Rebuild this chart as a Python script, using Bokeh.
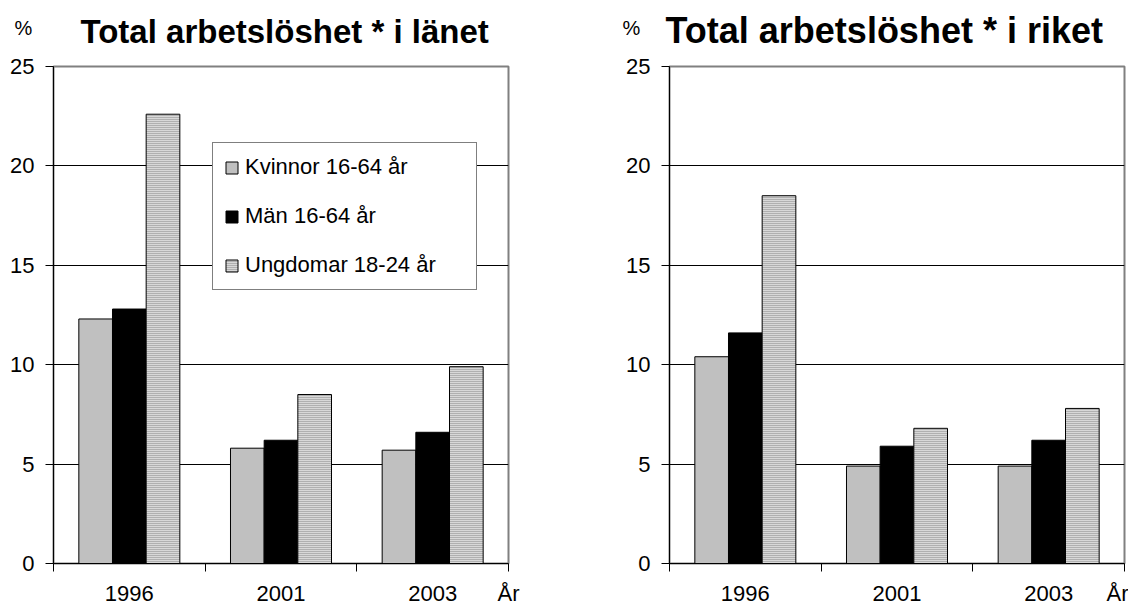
from bokeh.plotting import figure
from bokeh.models import Range1d, FixedTicker, Title, Legend, LegendItem, ColumnDataSource
from bokeh.transform import dodge
from bokeh.layouts import row
from bokeh.embed import file_html
from bokeh.resources import INLINE

years = ["1996", "2001", "2003"]
axis_unit = "År"
series = ["Kvinnor 16-64 år", "Män 16-64 år", "Ungdomar 18-24 år"]
lan_kvinnor = [12.3, 5.8, 5.7]
lan_man = [12.8, 6.2, 6.6]
lan_ungdom = [22.6, 8.5, 9.9]
riket_kvinnor = [10.4, 4.9, 4.9]
riket_man = [11.6, 5.9, 6.2]
riket_ungdom = [18.5, 6.8, 7.8]
y_ticks = [0, 5, 10, 15, 20, 25]
titles = ["Total arbetslöshet * i länet", "Total arbetslöshet * i riket"]

FONT = "Liberation Sans"


def make(title, kv, ma, ug, width, left, right, title_off, title_size, title_standoff,
         pct_off, pct_standoff, with_legend):
    p = figure(width=width, height=608, x_range=Range1d(0, 3), y_range=Range1d(0, 25),
               output_backend="svg", toolbar_location=None,
               min_border_left=left, min_border_right=right,
               min_border_top=66, min_border_bottom=44)
    p.background_fill_color = "white"
    p.border_fill_color = "white"
    p.outline_line_color = "#808080"
    p.outline_line_width = 2

    n = len(years)
    src = ColumnDataSource(dict(x=[i + 0.5 for i in range(n)], kv=kv, ma=ma, ug=ug))
    bw = 0.222
    r1 = p.vbar(x=dodge('x', -bw), top='kv', width=bw, source=src,
                fill_color="#c0c0c0", line_color="black", line_width=1)
    r2 = p.vbar(x=dodge('x', 0), top='ma', width=bw, source=src,
                fill_color="black", line_color="black", line_width=1)
    r3 = p.vbar(x=dodge('x', bw), top='ug', width=bw, source=src,
                fill_color="#d8d8d8", hatch_pattern="horizontal_line", hatch_color="#888888",
                hatch_scale=2, hatch_weight=1, line_color="black", line_width=1)

    # x axis: tick marks between categories, labels centred, unit label at the end
    xa = p.xaxis[0]
    label_pos = [i + 0.5 for i in range(n)] + [n]
    xa.ticker = FixedTicker(ticks=label_pos, minor_ticks=list(range(n + 1)))
    overrides = {i + 0.5: y for i, y in enumerate(years)}
    overrides[n] = axis_unit
    xa.major_label_overrides = overrides
    xa.major_tick_out = 0
    xa.major_tick_in = 0
    xa.minor_tick_out = 8
    xa.minor_tick_in = 0
    xa.minor_tick_line_color = "black"
    xa.axis_line_color = "black"
    xa.major_label_standoff = 9
    xa.major_label_text_font = FONT
    xa.major_label_text_font_size = "22px"
    xa.major_label_text_color = "black"

    ya = p.yaxis[0]
    ya.ticker = FixedTicker(ticks=y_ticks, minor_ticks=[])
    ya.major_tick_out = 8
    ya.major_tick_in = 0
    ya.major_tick_line_color = "black"
    ya.axis_line_color = "black"
    ya.major_label_standoff = 11
    ya.major_label_text_font = FONT
    ya.major_label_text_font_size = "22px"
    ya.major_label_text_color = "black"

    p.xgrid.visible = False
    p.ygrid.ticker = FixedTicker(ticks=y_ticks)
    p.ygrid.grid_line_color = "black"
    p.ygrid.grid_line_width = 1

    t_main = Title(text=title, align="left", vertical_align="top", offset=title_off,
                   standoff=title_standoff, text_font=FONT, text_font_size=title_size,
                   text_font_style="bold", text_color="black")
    p.add_layout(t_main, "above")
    t_pct = Title(text="%", align="left", vertical_align="top", offset=pct_off,
                  standoff=pct_standoff, text_font=FONT, text_font_size="20px",
                  text_font_style="normal", text_color="black")
    p.add_layout(t_pct, "above")

    if with_legend:
        leg = Legend(items=[LegendItem(label=series[0], renderers=[r1]),
                            LegendItem(label=series[1], renderers=[r2]),
                            LegendItem(label=series[2], renderers=[r3])],
                     location=(159, 273))
        leg.label_text_font = FONT
        leg.label_text_font_size = "22px"
        leg.label_text_color = "black"
        leg.label_height = 24
        leg.label_width = 220
        leg.glyph_height = 15
        leg.glyph_width = 15
        leg.label_standoff = 6
        leg.spacing = 23
        leg.padding = 11
        leg.margin = 0
        leg.border_line_color = "black"
        leg.border_line_width = 1
        leg.background_fill_color = "white"
        leg.background_fill_alpha = 1
        p.add_layout(leg, "center")
    return p


p1 = make(titles[0], lan_kvinnor, lan_man, lan_ungdom, 568, 53, 60,
          27, "33px", -108, -39, -100, True)
p2 = make(titles[1], riket_kvinnor, riket_man, riket_ungdom, 560, 101, 4,
          -4, "36px", -113, -47, -100, False)

layout = row(p1, p2)
open("out.html", "w").write(file_html(layout, INLINE))
